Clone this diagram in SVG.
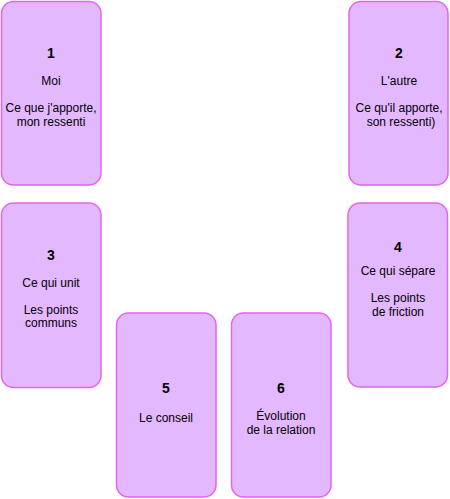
<svg xmlns="http://www.w3.org/2000/svg" width="450" height="499" viewBox="0 0 450 499">
<style>
.card{fill:#E3B8FF;stroke:#E066F0;stroke-width:1.5}
text{font-family:"Liberation Sans",Arial,sans-serif;text-anchor:middle;fill:#000}
.n{font-size:14px;font-weight:bold}
.t{font-size:12px}
</style>
<rect width="450" height="499" fill="#fff"/>
<g id="card1">
<rect class="card" x="1.5" y="1.5" width="99.5" height="183.5" rx="12"/>
<text class="n" x="51" y="58">1</text>
<text class="t" x="51" y="85">Moi</text>
<text class="t" x="51" y="112">Ce que j'apporte,</text>
<text class="t" x="51" y="126">mon ressenti</text>
</g>
<g id="card2">
<rect class="card" x="349" y="1.5" width="99" height="183.5" rx="12"/>
<text class="n" x="399" y="58">2</text>
<text class="t" x="399" y="85">L'autre</text>
<text class="t" x="399" y="112">Ce qu'il apporte,</text>
<text class="t" x="401" y="126">son ressenti)</text>
</g>
<g id="card3">
<rect class="card" x="1.5" y="203" width="99.5" height="184.5" rx="12"/>
<text class="n" x="51" y="260">3</text>
<text class="t" x="51" y="287">Ce qui unit</text>
<text class="t" x="51" y="314">Les points</text>
<text class="t" x="51" y="327">communs</text>
</g>
<g id="card4">
<rect class="card" x="348" y="203" width="99.5" height="184" rx="12"/>
<text class="n" x="398" y="252">4</text>
<text class="t" x="398" y="275">Ce qui sépare</text>
<text class="t" x="398" y="302">Les points</text>
<text class="t" x="398" y="316">de friction</text>
</g>
<g id="card5">
<rect class="card" x="116.5" y="313" width="99.5" height="184" rx="12"/>
<text class="n" x="166" y="393">5</text>
<text class="t" x="166" y="422">Le conseil</text>
</g>
<g id="card6">
<rect class="card" x="231.5" y="313" width="99.5" height="184" rx="12"/>
<text class="n" x="281" y="393">6</text>
<text class="t" x="281" y="420">Évolution</text>
<text class="t" x="281" y="434">de la relation</text>
</g>
<g id="connectors"/>
</svg>
